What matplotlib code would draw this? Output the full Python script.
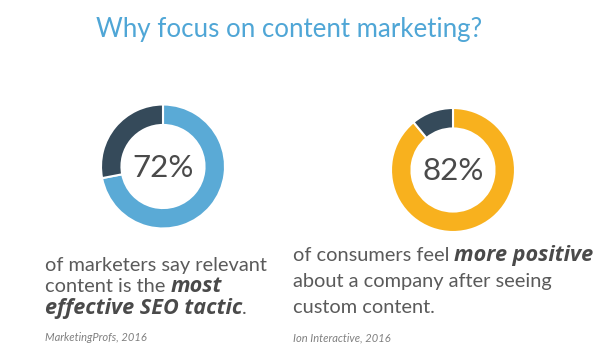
import matplotlib.pyplot as plt

plt.rcParams['font.family'] = ['Lato', 'DejaVu Sans']

W, H = 604, 363

title = 'Why focus on content marketing?'
labels = ['72%', '82%']
shares = [[72, 28], [89, 11]]
ring_colors = [['#5aaad6', '#354a5a'], ['#f8b11e', '#354a5a']]

# lines of text: list of (text, bold italic?)
left_lines = [
    [('of marketers say relevant', False)],
    [('content is the ', False), ('most', True)],
    [('effective SEO tactic', True), ('.', False)],
]
right_lines = [
    [('of consumers feel ', False), ('more positive', True)],
    [('about a company after seeing', False)],
    [('custom content.', False)],
]
sources = ['MarketingProfs, 2016', 'Ion Interactive, 2016']

fig = plt.figure(figsize=(W / 100, H / 100), dpi=100)
fig.patch.set_facecolor('white')
renderer = fig.canvas.get_renderer()


def px(x, y):
    return x / W, 1 - y / H


def donut(cx, cy, r, vals, cols, label):
    ax = fig.add_axes([(cx - r) / W, 1 - (cy + r) / H, 2 * r / W, 2 * r / H])
    ax.pie(vals, colors=cols, startangle=90, counterclock=False,
           wedgeprops=dict(width=0.33, edgecolor='white', linewidth=1.5))
    ax.set_xlim(-1, 1)
    ax.set_ylim(-1, 1)
    ax.set_aspect('equal')
    ax.axis('off')
    ax.text(0, -0.02, label, ha='center', va='center', fontsize=22.5,
            color='#4a4a4a')


def runs(x, y, lines, step, size):
    for i, line in enumerate(lines):
        cx = x
        for s, strong in line:
            if strong:
                t = fig.text(*px(cx, y + i * step), s, fontsize=size + 1.2,
                             va='baseline', color='#4a4a4a', fontweight='bold',
                             style='italic', family=['Open Sans', 'DejaVu Sans'])
            else:
                t = fig.text(*px(cx, y + i * step), s, fontsize=size,
                             va='baseline', color='#5a5a5a')
            cx += t.get_window_extent(renderer).width


fig.text(*px(289, 37), title, ha='center', va='baseline', fontsize=18.6,
         color='#4fa6d6')

donut(163, 166.5, 62, shares[0], ring_colors[0], labels[0])
donut(453, 170, 62, shares[1], ring_colors[1], labels[1])

runs(45, 271, left_lines, 21.5, 14.4)
runs(293, 261, right_lines, 26, 14.4)

fig.text(*px(45, 341), sources[0], fontsize=8, style='italic', color='#808080',
         va='baseline')
fig.text(*px(293, 341), sources[1], fontsize=8, style='italic', color='#808080',
         va='baseline')

fig.savefig('out.png', dpi=100, facecolor='white')
